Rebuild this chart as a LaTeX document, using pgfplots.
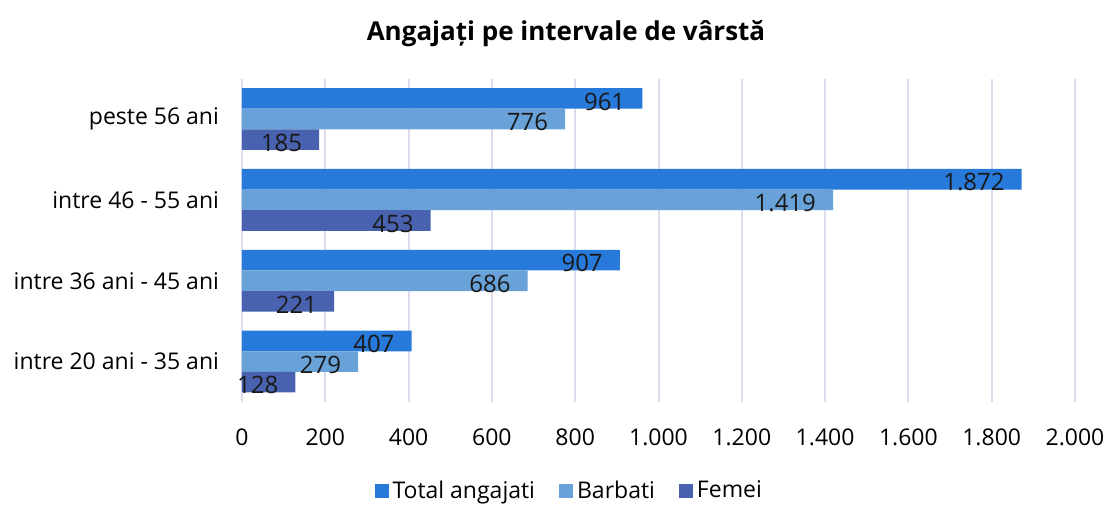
\documentclass[border=0pt]{standalone}
\usepackage{pgfplots}
\pgfplotsset{compat=1.18}
\usepackage{fontspec}
\setmainfont{Open Sans}
\definecolor{gridc}{HTML}{DCDCEE}
\definecolor{totc}{HTML}{2779DA}
\definecolor{barc}{HTML}{69A2D8}
\definecolor{femc}{HTML}{4862B0}
\begin{document}
\begin{tikzpicture}
\useasboundingbox (0,0) rectangle (554.5pt,252pt);
\node[font=\fontsize{13pt}{15pt}\selectfont\bfseries] at (283pt,235pt) {Angajați pe intervale de vârstă};
\begin{axis}[
  at={(121pt,51pt)}, anchor=south west,
  scale only axis, width=416.5pt, height=161.7pt,
  xbar, bar width=10.3pt,
  xmin=0, xmax=2000, ymin=-0.5, ymax=3.5,
  xtick={0,200,...,2000},
  ytick={0,1,2,3},
  yticklabels={intre 20 ani - 35 ani, intre 36 ani - 45 ani, intre 46 - 55 ani, peste 56 ani},
  scaled x ticks=false,
  /pgf/number format/1000 sep={.},
  /pgf/number format/assume math mode=true,
  axis line style={draw=none},
  major tick length=0pt,
  xmajorgrids, grid style={gridc, line width=1pt},
  tick label style={font=\fontsize{11.5pt}{13pt}\selectfont},
  xticklabel style={yshift=-10pt},
  yticklabel style={xshift=-8pt},
  nodes near coords,
  nodes near coords style={anchor=east, xshift=-5pt, yshift=-1.5pt, font=\fontsize{12pt}{14pt}\selectfont, text=black!90, /pgf/number format/1000 sep={.}, /pgf/number format/assume math mode=true},
  legend columns=3,
  legend style={draw=none, at={(0.394,-0.275)}, anchor=center, font=\fontsize{11.5pt}{13pt}\selectfont, /tikz/every even column/.append style={column sep=10pt}},
  legend image code/.code={\fill[#1] (0pt,-3.5pt) rectangle (7pt,3.5pt);},
]
\addplot[draw=none, fill=totc, bar shift=10.3pt] coordinates {(407,0) (907,1) (1872,2) (961,3)};
\addplot[draw=none, fill=barc, bar shift=0pt] coordinates {(279,0) (686,1) (1419,2) (776,3)};
\addplot[draw=none, fill=femc, bar shift=-10.3pt] coordinates {(128,0) (221,1) (453,2) (185,3)};
\legend{Total angajati, Barbati, Femei}
\end{axis}
\end{tikzpicture}
\end{document}
